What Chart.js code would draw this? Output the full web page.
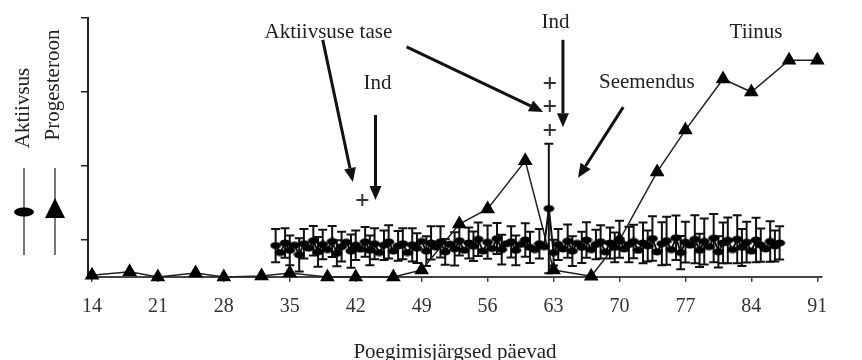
<!DOCTYPE html>
<html>
<head>
<meta charset="utf-8">
<script src="https://cdn.jsdelivr.net/npm/chart.js@4"></script>
<style>
  html, body { margin: 0; padding: 0; background: #fff; }
  #wrap { width: 862px; height: 360px; }
</style>
</head>
<body>
<div id="wrap"><canvas id="chart" width="862" height="360"></canvas></div>
<script>
const xTicks = [14, 21, 28, 35, 42, 49, 56, 63, 70, 77, 84, 91];
const yTicks = [1, 3, 5, 7];

// progesterone, sampled twice a week
const progDays = [14, 18, 21, 25, 28, 32, 35, 39, 42, 46, 49, 53, 56, 60, 63, 67, 70, 74, 77, 81, 84, 88, 91];
const progValues = [0.05, 0.14, 0.0, 0.11, 0.0, 0.03, 0.11, 0.0, 0.0, 0.0, 0.19, 1.43, 1.84, 3.14, 0.19, 0.02, 1.0, 2.84, 3.97, 5.35, 5.0, 5.86, 5.86];

// activity, every half day
const activityDays = [
  33.5, 34, 34.5, 35, 35.5, 36, 36.5, 37, 37.5, 38,
  38.5, 39, 39.5, 40, 40.5, 41, 41.5, 42, 42.5, 43,
  43.5, 44, 44.5, 45, 45.5, 46, 46.5, 47, 47.5, 48,
  48.5, 49, 49.5, 50, 50.5, 51, 51.5, 52, 52.5, 53,
  53.5, 54, 54.5, 55, 55.5, 56, 56.5, 57, 57.5, 58,
  58.5, 59, 59.5, 60, 60.5, 61, 61.5, 62, 62.5, 63,
  63.5, 64, 64.5, 65, 65.5, 66, 66.5, 67, 67.5, 68,
  68.5, 69, 69.5, 70, 70.5, 71, 71.5, 72, 72.5, 73,
  73.5, 74, 74.5, 75, 75.5, 76, 76.5, 77, 77.5, 78,
  78.5, 79, 79.5, 80, 80.5, 81, 81.5, 82, 82.5, 83,
  83.5, 84, 84.5, 85, 85.5, 86, 86.5, 87
];
const activityValues = [
  0.85, 0.66, 0.92, 0.72, 0.86, 0.60, 0.90, 0.78, 0.98, 0.68,
  0.88, 0.74, 0.96, 0.64, 0.82, 0.94, 0.70, 0.86, 0.75, 0.95,
  0.72, 0.90, 0.66, 0.86, 0.95, 0.70, 0.84, 0.90, 0.66, 0.87,
  0.78, 0.96, 0.70, 0.92, 0.81, 0.95, 0.68, 0.89, 0.76, 0.98,
  0.72, 0.92, 0.83, 1.02, 0.70, 0.94, 0.77, 1.04, 0.74, 0.90,
  0.95, 0.72, 0.88, 1.00, 0.80, 0.74, 0.90, 0.82, 1.85, 0.66,
  0.88, 0.76, 0.97, 0.70, 0.91, 0.80, 1.00, 0.74, 0.88, 0.95,
  0.68, 0.92, 0.80, 1.02, 0.76, 0.88, 0.96, 0.72, 0.92, 0.84,
  1.04, 0.68, 0.90, 0.98, 0.74, 1.06, 0.66, 0.94, 0.86, 1.02,
  0.72, 0.96, 0.82, 1.05, 0.68, 0.92, 0.99, 0.74, 1.02, 0.80,
  0.94, 0.70, 1.00, 0.86, 0.76, 0.96, 0.84, 0.92
];
const activityErr = [
  0.45, 0, 0.4, 0.4, 0, 0.45, 0.4, 0, 0.4, 0.4,
  0.4, 0, 0.42, 0.35, 0.4, 0, 0.45, 0.4, 0, 0.4,
  0.4, 0.42, 0, 0.4, 0.45, 0, 0.4, 0.42, 0, 0.45,
  0.4, 0, 0.4, 0.45, 0, 0.42, 0.35, 0, 0.45, 0.4,
  0, 0.42, 0.4, 0.45, 0, 0.45, 0, 0.42, 0.4, 0,
  0.42, 0.4, 0, 0.45, 0.42, 0, 0.4, 0, 1.75, 0.35,
  0.42, 0, 0.45, 0.4, 0, 0.42, 0.48, 0, 0.4, 0.45,
  0, 0.42, 0.4, 0.5, 0, 0.48, 0.45, 0, 0.55, 0.42,
  0.6, 0, 0.58, 0.65, 0, 0.6, 0.45, 0.55, 0, 0.65,
  0.45, 0.62, 0, 0.65, 0.42, 0.55, 0.62, 0, 0.65, 0.5,
  0.55, 0, 0.6, 0.45, 0, 0.55, 0.42, 0.45
];

// "+" marks (activity level)
const levelDays = [42.7, 62.6, 62.6, 62.6];
const levelValues = [2.08, 5.24, 4.62, 3.97];

// text notes and arrows, in data units
const notes = [
  { text: 'Aktiivsuse tase', x: 39.1, y: 6.62 },
  { text: 'Ind', x: 44.3, y: 5.24 },
  { text: 'Ind', x: 63.2, y: 6.89 },
  { text: 'Seemendus', x: 72.9, y: 5.27 },
  { text: 'Tiinus', x: 84.5, y: 6.62 }
];
const arrows = [
  { x0: 38.5, y0: 6.41, x1: 41.7, y1: 2.57 },
  { x0: 47.4, y0: 6.22, x1: 61.9, y1: 4.46 },
  { x0: 44.1, y0: 4.38, x1: 44.1, y1: 2.08 },
  { x0: 64.0, y0: 6.41, x1: 64.0, y1: 4.05 },
  { x0: 70.4, y0: 4.59, x1: 65.6, y1: 2.68 }
];

const SERIF = '"Liberation Serif", "DejaVu Serif", serif';

const ellipse = document.createElement('canvas');
ellipse.width = 12; ellipse.height = 8;
{
  const c = ellipse.getContext('2d');
  c.fillStyle = '#000';
  c.beginPath();
  c.ellipse(6, 4, 5.5, 3.5, 0, 0, Math.PI * 2);
  c.fill();
}

const toXY = (xs, ys) => xs.map((v, i) => ({ x: v, y: ys[i] }));

const errorBars = {
  id: 'errorBars',
  beforeDatasetsDraw(chart) {
    const { ctx, scales: { x, y } } = chart;
    ctx.save();
    ctx.strokeStyle = '#111';
    ctx.lineWidth = 2;
    activityDays.forEach((d, i) => {
      const e = activityErr[i];
      if (!e) return;
      const px = x.getPixelForValue(d);
      const top = y.getPixelForValue(activityValues[i] + e);
      const bot = y.getPixelForValue(Math.max(0, activityValues[i] - e));
      ctx.beginPath();
      ctx.moveTo(px, top); ctx.lineTo(px, bot);
      ctx.moveTo(px - 4.5, top); ctx.lineTo(px + 4.5, top);
      ctx.moveTo(px - 4.5, bot); ctx.lineTo(px + 4.5, bot);
      ctx.stroke();
    });
    ctx.restore();
  }
};

const annotations = {
  id: 'annotations',
  afterDraw(chart) {
    const { ctx, scales: { x, y } } = chart;
    ctx.save();
    ctx.fillStyle = '#222';
    ctx.strokeStyle = '#111';
    ctx.font = '21px ' + SERIF;
    ctx.textAlign = 'center';
    ctx.textBaseline = 'middle';
    notes.forEach(n => ctx.fillText(n.text, x.getPixelForValue(n.x), y.getPixelForValue(n.y)));

    arrows.forEach(a => {
      const x0 = x.getPixelForValue(a.x0), y0 = y.getPixelForValue(a.y0);
      const x1 = x.getPixelForValue(a.x1), y1 = y.getPixelForValue(a.y1);
      const ang = Math.atan2(y1 - y0, x1 - x0);
      const hl = 14, hw = 6;
      const bx = x1 - Math.cos(ang) * hl, by = y1 - Math.sin(ang) * hl;
      ctx.lineWidth = 3;
      ctx.beginPath();
      ctx.moveTo(x0, y0);
      ctx.lineTo(bx, by);
      ctx.stroke();
      ctx.beginPath();
      ctx.moveTo(x1, y1);
      ctx.lineTo(bx + Math.sin(ang) * hw, by - Math.cos(ang) * hw);
      ctx.lineTo(bx - Math.sin(ang) * hw, by + Math.cos(ang) * hw);
      ctx.closePath();
      ctx.fillStyle = '#111';
      ctx.fill();
    });

    // rotated y titles
    ctx.fillStyle = '#222';
    [['Aktiivsus', 23, 108], ['Progesteroon', 53, 85]].forEach(([t, cx, cy]) => {
      ctx.save();
      ctx.translate(cx, cy);
      ctx.rotate(-Math.PI / 2);
      ctx.fillText(t, 0, 0);
      ctx.restore();
    });

    // legend glyphs under the titles
    ctx.strokeStyle = '#777';
    ctx.lineWidth = 2;
    ctx.beginPath();
    ctx.moveTo(24, 168); ctx.lineTo(24, 255);
    ctx.moveTo(55, 168); ctx.lineTo(55, 255);
    ctx.stroke();
    ctx.fillStyle = '#000';
    ctx.beginPath();
    ctx.ellipse(24, 212, 10, 4.5, 0, 0, Math.PI * 2);
    ctx.fill();
    ctx.beginPath();
    ctx.moveTo(55, 198); ctx.lineTo(65, 218); ctx.lineTo(45, 218);
    ctx.closePath();
    ctx.fill();
    ctx.restore();
  }
};

new Chart(document.getElementById('chart'), {
  type: 'scatter',
  data: {
    datasets: [
      {
        label: 'Aktiivsus',
        data: toXY(activityDays, activityValues),
        showLine: true,
        borderColor: '#111',
        borderWidth: 2,
        pointStyle: ellipse,
        pointRadius: 5,
        clip: false
      },
      {
        label: 'Progesteroon',
        data: toXY(progDays, progValues),
        showLine: true,
        borderColor: '#222',
        borderWidth: 1.5,
        backgroundColor: '#000',
        pointBorderColor: '#000',
        pointStyle: 'triangle',
        pointRadius: 7,
        clip: false
      },
      {
        label: 'Aktiivsuse tase',
        data: toXY(levelDays, levelValues),
        showLine: false,
        pointStyle: 'cross',
        pointRadius: 6,
        pointBorderWidth: 2,
        borderColor: '#333',
        clip: false
      }
    ]
  },
  options: {
    responsive: false,
    animation: false,
    layout: { padding: { top: 18, right: 40, left: 0, bottom: 0 } },
    plugins: { legend: { display: false }, tooltip: { enabled: false } },
    scales: {
      x: {
        type: 'linear',
        min: 13.58,
        max: 91.5,
        afterBuildTicks: s => { s.ticks = xTicks.map(v => ({ value: v })); },
        afterFit: s => { s.height = 83; },
        grid: { drawOnChartArea: false, tickLength: 5, color: '#444', lineWidth: 1.5 },
        border: { color: '#444', width: 2 },
        ticks: { color: '#333', padding: 13, maxRotation: 0, font: { family: SERIF, size: 20 } },
        title: {
          display: true,
          text: 'Poegimisjärgsed päevad',
          color: '#222',
          padding: { top: 0, bottom: -3 },
          font: { family: SERIF, size: 21, lineHeight: 1 }
        }
      },
      y: {
        min: 0,
        max: 7,
        afterBuildTicks: s => { s.ticks = yTicks.map(v => ({ value: v })); },
        afterFit: s => { s.width = 88; },
        grid: { drawOnChartArea: false, tickLength: 7, color: '#222', lineWidth: 1.5 },
        border: { color: '#222', width: 2 },
        ticks: { callback: () => '', padding: 0 }
      }
    }
  },
  plugins: [errorBars, annotations]
});
</script>
</body>
</html>
